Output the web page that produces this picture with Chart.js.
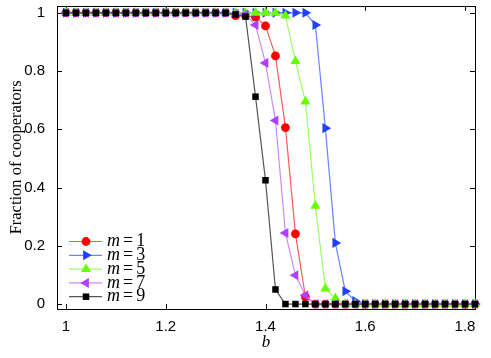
<!DOCTYPE html>
<html>
<head>
<meta charset="utf-8">
<script src="https://cdn.jsdelivr.net/npm/chart.js@4/dist/chart.umd.min.js"></script>
<style>
  html, body { margin: 0; padding: 0; background: #fff; }
  canvas { display: block; }
</style>
</head>
<body>
<canvas id="chart" width="491" height="358"></canvas>
<script>
// x-verdier (b)
const bValues = [1.00, 1.02, 1.04, 1.06, 1.08, 1.10, 1.12, 1.14, 1.16, 1.18,
                 1.20, 1.22, 1.24, 1.26, 1.28, 1.30, 1.32, 1.34, 1.36, 1.38,
                 1.40, 1.42, 1.44, 1.46, 1.48, 1.50, 1.52, 1.54, 1.56, 1.58,
                 1.60, 1.62, 1.64, 1.66, 1.68, 1.70, 1.72, 1.74, 1.76, 1.78,
                 1.80, 1.82];

// Andel samarbeidere per m
const m1 = [1, 1, 1, 1, 1, 1, 1, 1, 1, 1,
            1, 1, 1, 1, 1, 1, 1, 0.99, 0.99, 0.985,
            0.955, 0.852, 0.606, 0.241, 0.025, 0, 0, 0, 0, 0,
            0, 0, 0, 0, 0, 0, 0, 0, 0, 0,
            0, 0];
const m3 = [1, 1, 1, 1, 1, 1, 1, 1, 1, 1,
            1, 1, 1, 1, 1, 1, 1, 1, 1, 1,
            1, 1, 1, 1, 1, 0.958, 0.604, 0.21, 0.044, 0.01,
            0, 0, 0, 0, 0, 0, 0, 0, 0, 0,
            0, 0];
const m5 = [1, 1, 1, 1, 1, 1, 1, 1, 1, 1,
            1, 1, 1, 1, 1, 1, 1, 1, 1, 1,
            1, 1, 0.99, 0.834, 0.695, 0.337, 0.053, 0.02, 0, 0,
            0, 0, 0, 0, 0, 0, 0, 0, 0, 0,
            0, 0];
const m7 = [1, 1, 1, 1, 1, 1, 1, 1, 1, 1,
            1, 1, 1, 1, 1, 1, 1, 0.997, 0.995, 0.958,
            0.828, 0.63, 0.244, 0.099, 0.03, 0, 0, 0, 0, 0,
            0, 0, 0, 0, 0, 0, 0, 0, 0, 0,
            0, 0];
const m9 = [1, 1, 1, 1, 1, 1, 1, 1, 1, 1,
            1, 1, 1, 1, 1, 1, 1, 0.994, 0.987, 0.712,
            0.425, 0.05, 0, 0, 0, 0, 0, 0, 0, 0,
            0, 0, 0, 0, 0, 0, 0, 0, 0, 0,
            0, 0];

const seriesNames = ['1', '3', '5', '7', '9'];
const xTicks = [1, 1.2, 1.4, 1.6, 1.8];
const yTicks = [0, 0.2, 0.4, 0.6, 0.8, 1];

// Stil per serie
const styles = [
  { data: m1, marker: '#ff0000', line: '#ff5a5a', shape: 'circle', rotation: 0, radius: 4.4 },
  { data: m3, marker: '#2040ff', line: '#6a84ff', shape: 'triangle', rotation: 90, radius: 5.8 },
  { data: m5, marker: '#66ff00', line: '#99ff66', shape: 'triangle', rotation: 0, radius: 5.8 },
  { data: m7, marker: '#b040ff', line: '#cc88ff', shape: 'triangle', rotation: -90, radius: 5.8 },
  { data: m9, marker: '#000000', line: '#555555', shape: 'rect', rotation: 0, radius: 4.6 }
];

const datasets = styles.map((s, i) => ({
  label: 'm=' + seriesNames[i],
  data: bValues.map((b, k) => ({ x: b, y: s.data[k] })),
  borderColor: s.line,
  borderWidth: 1.2,
  backgroundColor: s.marker,
  pointBackgroundColor: s.marker,
  pointBorderColor: s.marker,
  pointBorderWidth: 0,
  pointStyle: s.shape,
  rotation: s.rotation,
  pointRadius: s.radius,
  tension: 0,
  clip: false,
  order: styles.length - i   // svart øverst
}));

// Egen markør-tegning for legenden
function drawMarker(ctx, s, x, y) {
  const r = s.radius;
  ctx.fillStyle = s.marker;
  ctx.beginPath();
  if (s.shape === 'circle') {
    ctx.arc(x, y, r, 0, Math.PI * 2);
  } else if (s.shape === 'rect') {
    const h = Math.SQRT1_2 * r;
    ctx.rect(x - h, y - h, 2 * h, 2 * h);
  } else {
    let rad = s.rotation * Math.PI / 180;
    for (let k = 0; k < 3; k++) {
      const px = x + Math.sin(rad) * r, py = y - Math.cos(rad) * r;
      if (k === 0) ctx.moveTo(px, py); else ctx.lineTo(px, py);
      rad += 2 * Math.PI / 3;
    }
    ctx.closePath();
  }
  ctx.fill();
}

const framePlugin = {
  id: 'frame',
  beforeDatasetsDraw(chart) {
    const { ctx, chartArea: a, scales: { x, y } } = chart;
    ctx.save();
    ctx.strokeStyle = '#000';
    ctx.lineWidth = 1;
    ctx.strokeRect(Math.round(a.left) + 0.5, Math.round(a.top) + 0.5,
                   Math.round(a.right - a.left), Math.round(a.bottom - a.top));
    const tl = 5;
    ctx.beginPath();
    xTicks.forEach(v => {
      const px = Math.round(x.getPixelForValue(v)) + 0.5;
      ctx.moveTo(px, a.bottom); ctx.lineTo(px, a.bottom - tl);
      ctx.moveTo(px, a.top); ctx.lineTo(px, a.top + tl);
    });
    yTicks.forEach(v => {
      const py = Math.round(y.getPixelForValue(v)) + 0.5;
      ctx.moveTo(a.left, py); ctx.lineTo(a.left + tl, py);
      ctx.moveTo(a.right, py); ctx.lineTo(a.right - tl, py);
    });
    ctx.stroke();

    // aksetitler
    ctx.fillStyle = '#000';
    ctx.textAlign = 'center';
    ctx.textBaseline = 'middle';
    ctx.font = '16.5px "Liberation Serif"';
    ctx.save();
    ctx.translate(17, (a.top + a.bottom) / 2);
    ctx.rotate(-Math.PI / 2);
    ctx.fillText('Fraction of cooperators', 0, 0);
    ctx.restore();
    ctx.font = 'italic 17px "Liberation Serif"';
    ctx.fillText('b', (a.left + a.right) / 2, 343);
    ctx.restore();
  },
  afterDatasetsDraw(chart) {
    const ctx = chart.ctx;
    ctx.save();
    const x0 = 69, x1 = 102, xm = 86, xt = 107;
    styles.forEach((s, i) => {
      const yy = 241.5 + i * 13.8;
      ctx.strokeStyle = s.line;
      ctx.lineWidth = 1.2;
      ctx.beginPath();
      ctx.moveTo(x0, yy); ctx.lineTo(x1, yy);
      ctx.stroke();
      drawMarker(ctx, s, xm, yy);
      ctx.fillStyle = '#000';
      ctx.textBaseline = 'middle';
      ctx.textAlign = 'left';
      ctx.font = 'italic 18px "Liberation Serif"';
      ctx.fillText('m', xt, yy);
      let xx = xt + ctx.measureText('m').width + 3;
      ctx.font = '18px "Liberation Serif"';
      ctx.fillText('=', xx, yy);
      xx += ctx.measureText('=').width + 3;
      ctx.fillText(seriesNames[i], xx, yy);
    });
    ctx.restore();
  }
};

new Chart(document.getElementById('chart'), {
  type: 'line',
  data: { datasets },
  options: {
    responsive: false,
    animation: false,
    events: [],
    layout: { padding: { top: 3, right: 16, left: 0, bottom: 0 } },
    plugins: { legend: { display: false }, tooltip: { enabled: false } },
    scales: {
      x: {
        type: 'linear',
        min: 0.982,
        max: 1.82,
        afterBuildTicks: s => { s.ticks = xTicks.map(v => ({ value: v })); },
        afterFit: s => { s.height = 49; s.paddingLeft = 0; s.paddingRight = 0; },
        grid: { display: false },
        border: { display: false },
        ticks: {
          color: '#000',
          padding: 1,
          maxRotation: 0,
          font: { family: '"Liberation Sans"', size: 15 },
          callback: v => String(+v.toFixed(1))
        }
      },
      y: {
        min: -0.017,
        max: 1.024,
        afterBuildTicks: s => { s.ticks = yTicks.map(v => ({ value: v })); },
        afterFit: s => { s.width = 57; s.paddingTop = 0; s.paddingBottom = 0; },
        grid: { display: false },
        border: { display: false },
        ticks: {
          color: '#000',
          padding: 4,
          font: { family: '"Liberation Sans"', size: 15 },
          callback: v => String(+v.toFixed(1))
        }
      }
    }
  },
  plugins: [framePlugin]
});
</script>
</body>
</html>
